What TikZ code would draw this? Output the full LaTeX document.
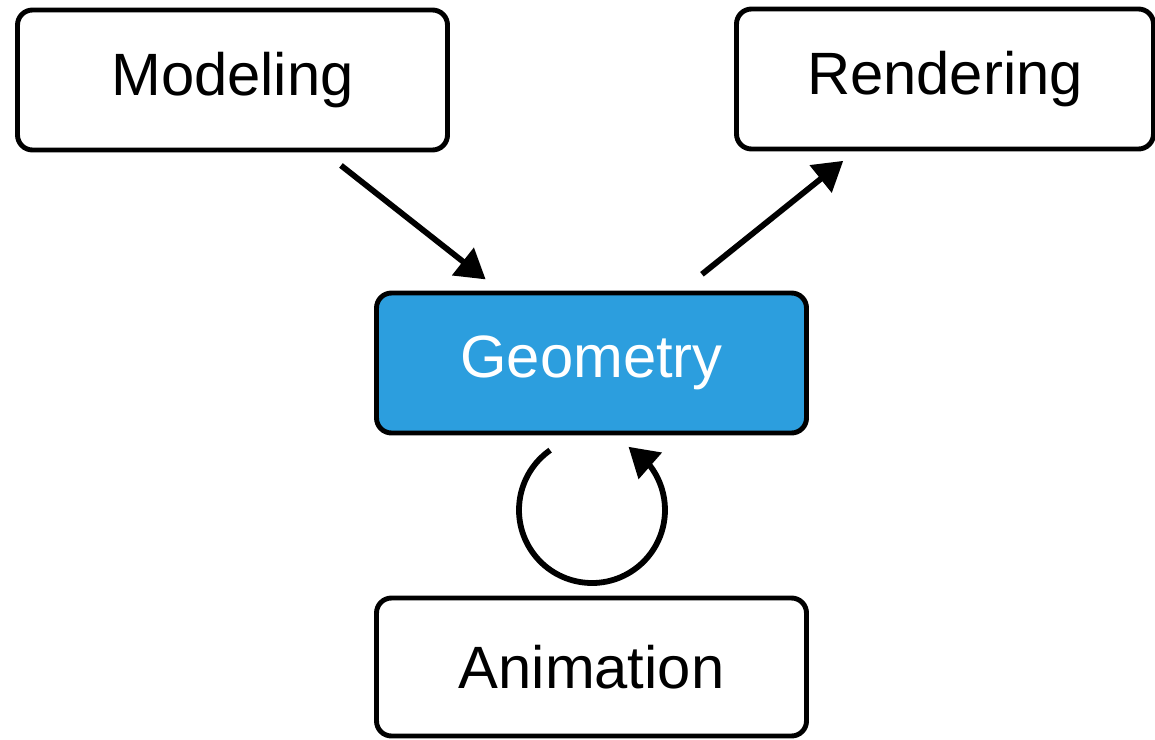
\documentclass[tikz,border=0pt]{standalone}
\usepackage{fontspec}
\setmainfont{Liberation Sans}
\usepackage{tikz}
\usetikzlibrary{arrows.meta,bending}
\definecolor{geoblue}{RGB}{44,158,222}
\tikzset{>={Triangle[length=0.58cm,width=0.68cm]}}
\tikzstyle{block} = [rectangle, draw, line width=2.8pt, fill=white,
    minimum width=8.6cm, minimum height=2.8cm, rounded corners=0.3cm,
    font=\fontsize{34}{40}\selectfont]
\tikzstyle{arr} = [->, line width=3.3pt]

\begin{document}
\begin{tikzpicture}
  \useasboundingbox (0,0) rectangle (23.1,-14.78);

  \node [block] (n1) at (4.65,-1.6) {Modeling};
  \node [block, minimum width=8.34cm] (n4) at (18.9,-1.58) {Rendering};
  \node [block, fill=geoblue, text=white] (n2) at (11.83,-7.26) {Geometry};
  \node [block, minimum height=2.76cm] (n3) at (11.83,-13.34) {Animation};

  \path[arr, shorten <=0.42cm, shorten >=0.36cm] (n1) edge (n2);
  \path[arr, shorten <=0.52cm, shorten >=0.3cm] (n2) edge (n4);

  % loop between geometry and animation
  \coordinate (loop) at (11.84,-10.2);
  \draw[arr] ([shift={(125:1.46)}]loop) arc[start angle=125, end angle=420, radius=1.46];
\end{tikzpicture}
\end{document}
